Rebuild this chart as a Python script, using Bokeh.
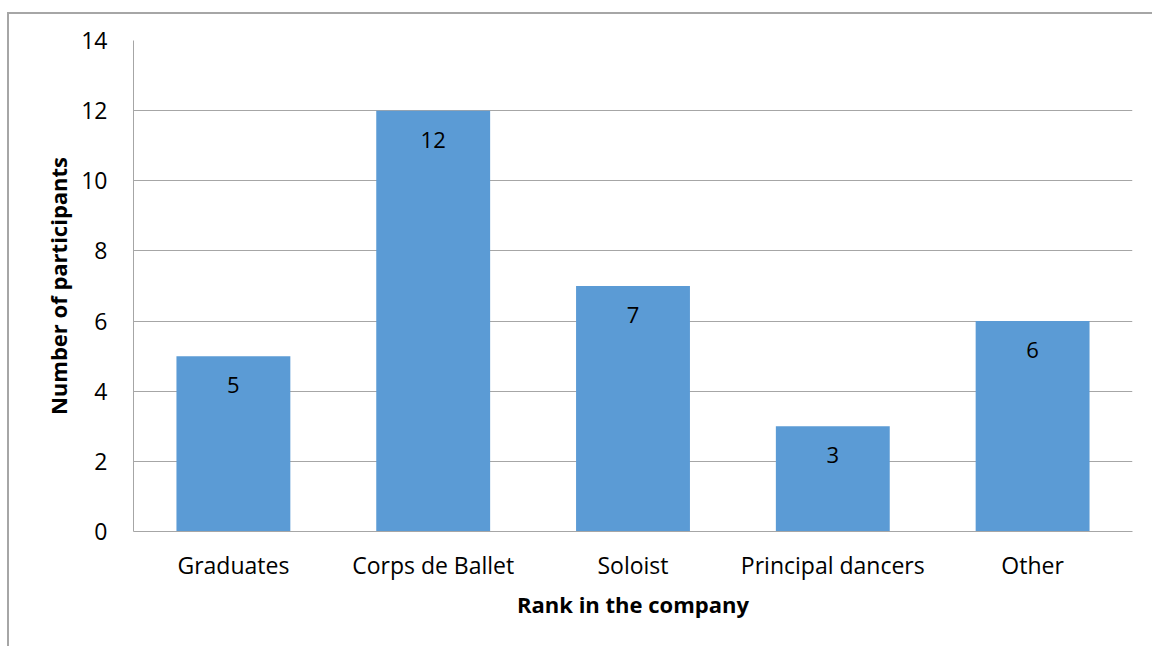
from bokeh.plotting import figure
from bokeh.models import ColumnDataSource, FixedTicker, LabelSet
from bokeh.core.properties import value
from bokeh.embed import file_html
from bokeh.resources import INLINE

categories = ["Graduates", "Corps de Ballet", "Soloist", "Principal dancers", "Other"]
participants = [5, 12, 7, 3, 6]
y_ticks = [0, 2, 4, 6, 8, 10, 12, 14]

FONT = "Open Sans"
GRID = "#a6a6a6"

src = ColumnDataSource(dict(cat=categories, val=participants, lab=[str(v) for v in participants]))

p = figure(x_range=categories, y_range=(0, 14), width=1145, height=634,
           output_backend="svg", toolbar_location=None,
           min_border_left=124, min_border_top=26, min_border_right=22, min_border_bottom=117,
           styles={"margin-left": "7px", "margin-top": "12px",
                   "border-left": "2px solid #a6a6a6", "border-top": "2px solid #a6a6a6"})
p.outline_line_color = None
p.x_range.range_padding = 0

p.vbar(x="cat", top="val", width=0.57, source=src, fill_color="#5b9bd5", line_color=None)

labels = LabelSet(x="cat", y="val", text="lab", source=src, y_offset=-29,
                  text_align="center", text_baseline="middle",
                  text_font=value(FONT), text_font_size="22px", text_color="#000000")
p.add_layout(labels)

p.yaxis.ticker = FixedTicker(ticks=y_ticks)
p.ygrid.ticker = FixedTicker(ticks=y_ticks)
p.ygrid.grid_line_color = GRID
p.ygrid.grid_line_width = 1
p.xgrid.grid_line_color = None

for ax in (p.xaxis, p.yaxis):
    ax.axis_line_color = GRID
    ax.major_tick_line_color = None
    ax.minor_tick_line_color = None
    ax.major_label_text_font = FONT
    ax.major_label_text_font_size = "23px"
    ax.major_label_text_color = "#000000"
    ax.axis_label_text_font = FONT
    ax.axis_label_text_font_size = "22px"
    ax.axis_label_text_font_style = "bold"
    ax.axis_label_text_color = "#000000"

p.yaxis.axis_label = "Number of participants"
p.yaxis.major_label_standoff = 20
p.yaxis.axis_label_standoff = 5
p.xaxis.axis_label = "Rank in the company"
p.xaxis.major_label_standoff = 11
p.xaxis.axis_label_standoff = 5

open("out.html", "w").write(file_html(p, INLINE))
